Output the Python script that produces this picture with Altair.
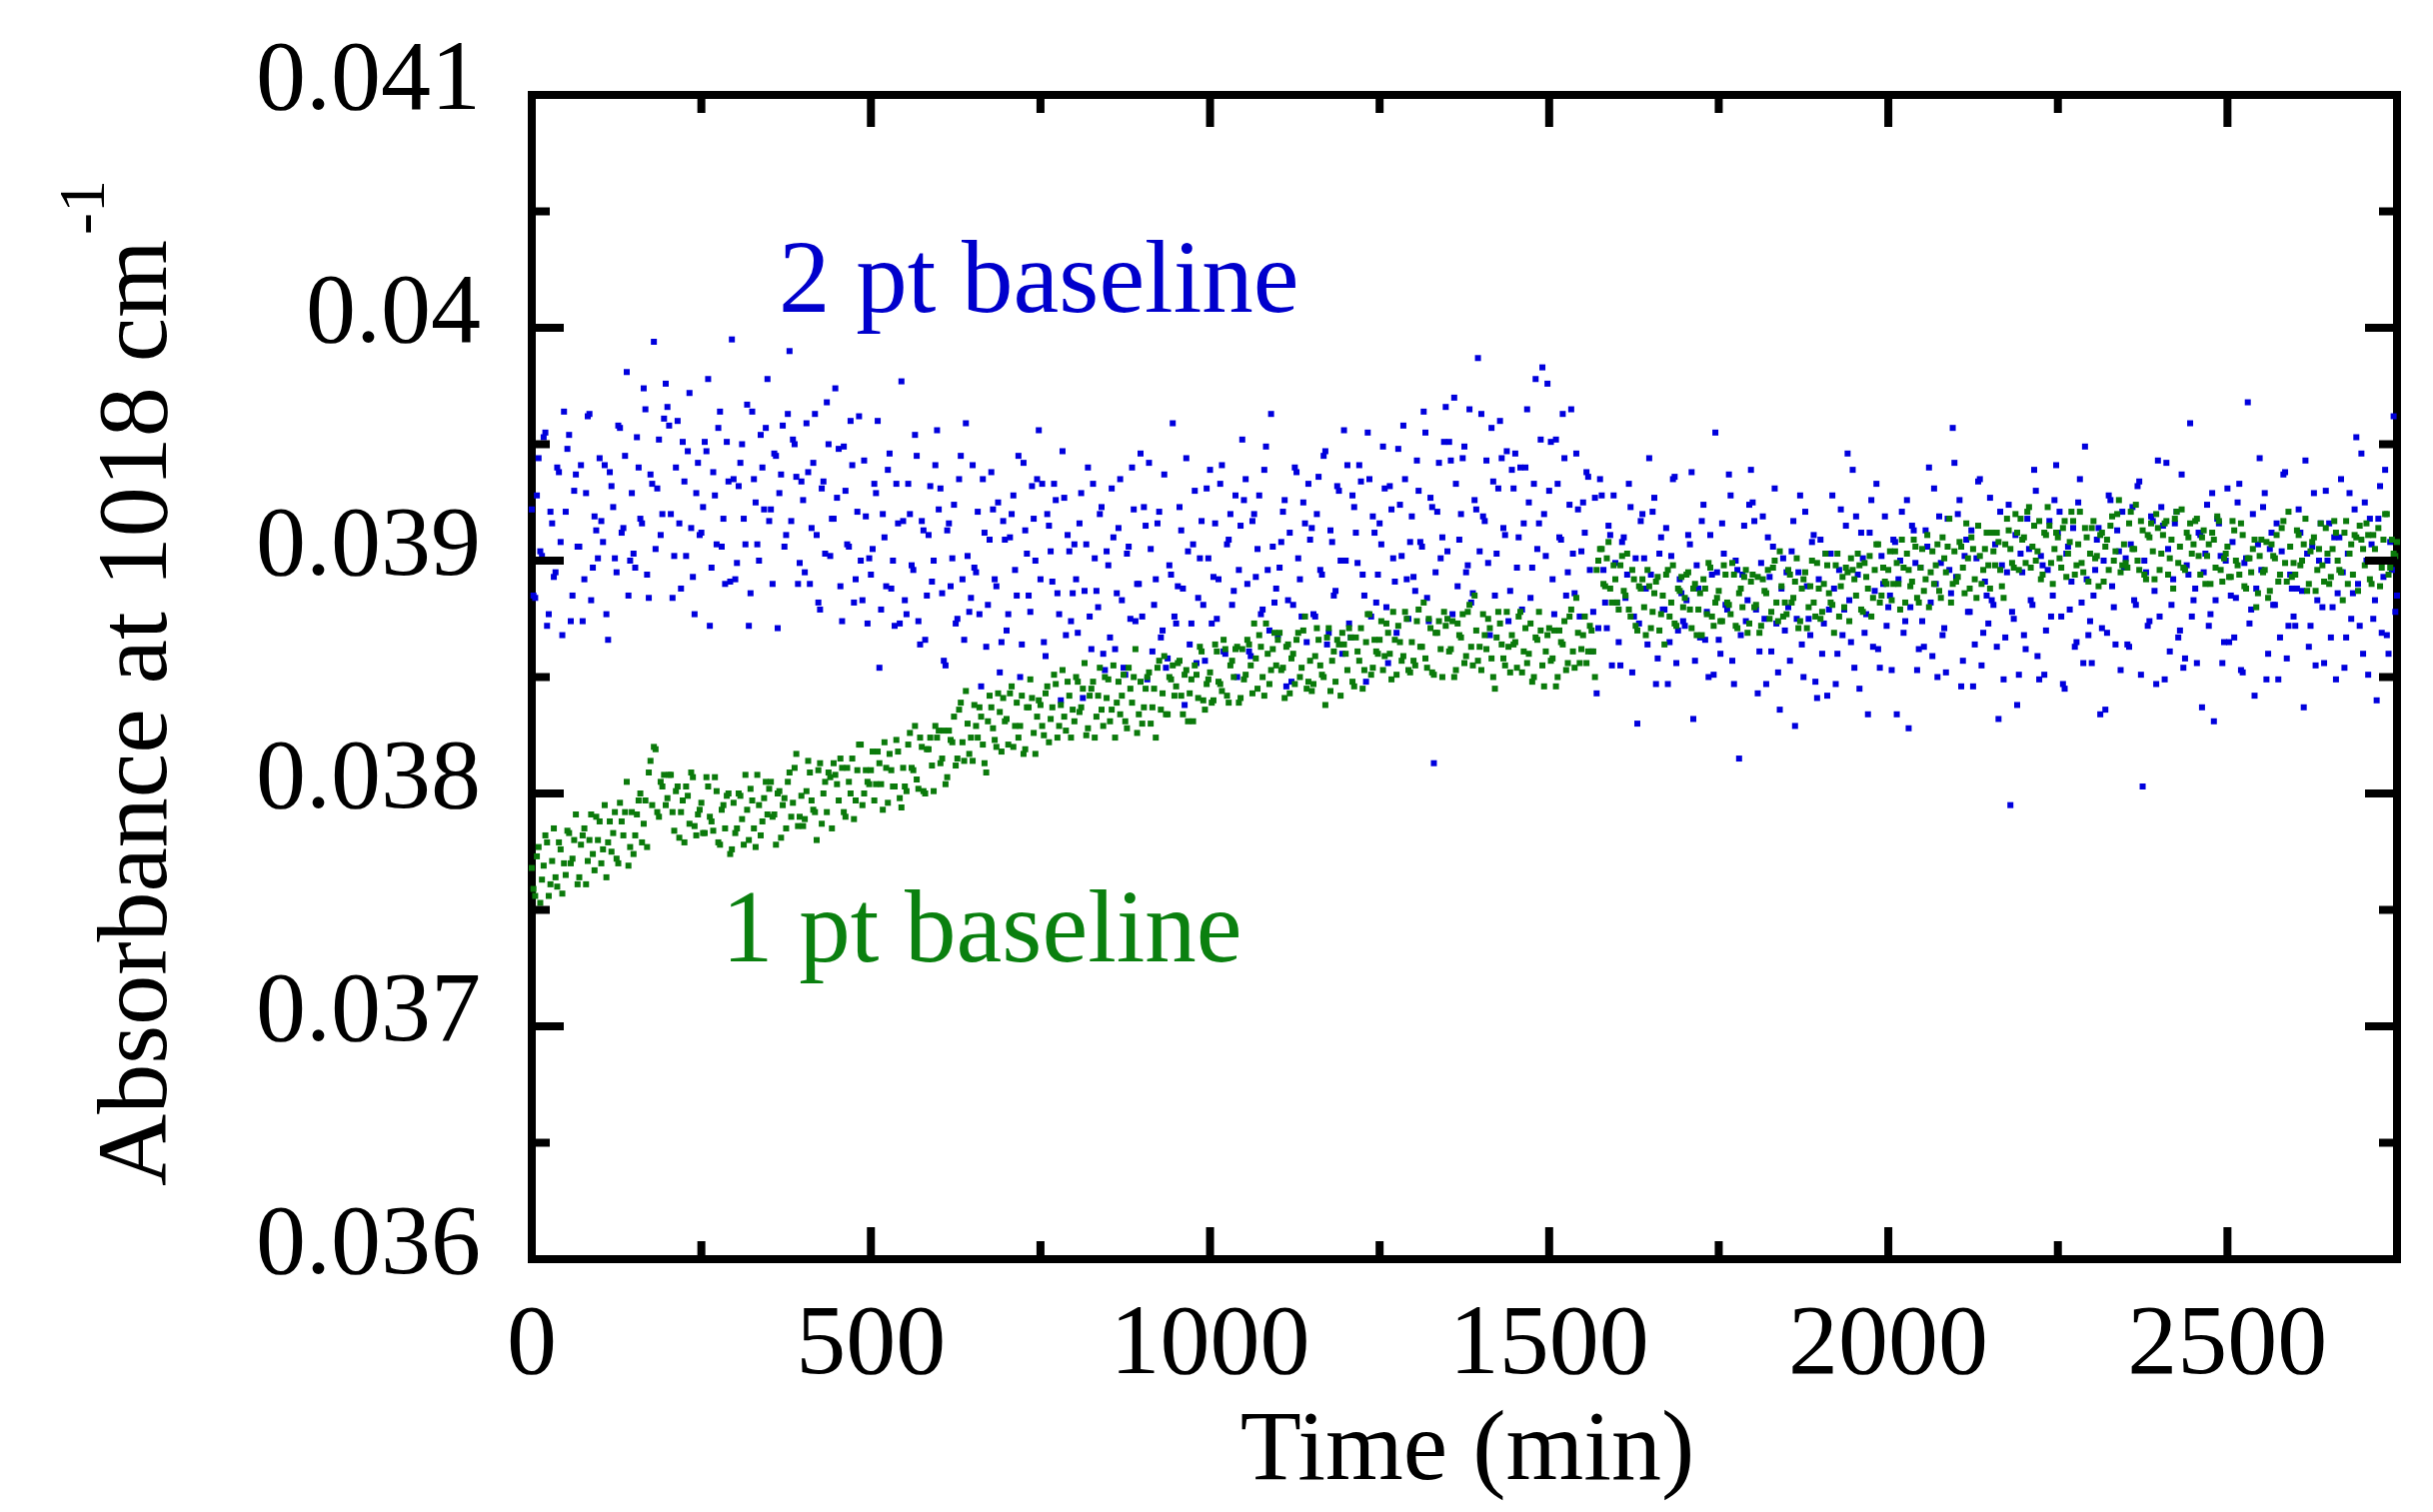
import altair as alt
import pandas as pd

# ---------------- data: absorbance x 1e6 ----------------
# "_a" samples are at t = 0, 5, 10 ... min ; "_b" samples are at t = 2.5, 7.5, 12.5 ... min
STEP_MIN = 5
HALF_STEP = 2.5

green_1pt_a = [
    37680, 37560, 37770, 37630, 37820, 37560, 37710, 37640, 37790, 37570,  # 0
    37650, 37830, 37720, 37910, 37640, 37820, 37610, 37800, 37740, 37900,  # 50
    37880, 37760, 37640, 37880, 37830, 37720, 37960, 37820, 38050, 37770,  # 100
    37740, 37910, 38000, 37870, 37770, 38140, 38200, 37920, 38050, 38080,  # 150
    37980, 38080, 37840, 38030, 37920, 37790, 37990, 38090, 37860, 37910,  # 200
    37960, 37830, 38030, 37880, 38070, 37790, 37930, 37850, 38000, 37760,  # 250
    37830, 38000, 37890, 38080, 37800, 37970, 37770, 37950, 37880, 38050,  # 300
    38020, 37900, 37780, 38010, 37950, 37850, 38090, 37960, 38170, 37900,  # 350
    37860, 38010, 38090, 37930, 37800, 38130, 38000, 37920, 38070, 38130,  # 400
    38040, 38150, 37920, 38110, 38000, 37890, 38100, 38210, 38000, 38050,  # 450
    38100, 37970, 38180, 38040, 38220, 37960, 38100, 38030, 38180, 37940,  # 500
    38030, 38210, 38110, 38290, 38020, 38200, 38000, 38190, 38120, 38290,  # 550
    38270, 38150, 38040, 38270, 38220, 38120, 38360, 38220, 38440, 38170,  # 600
    38140, 38290, 38370, 38210, 38090, 38420, 38280, 38200, 38350, 38410,  # 650
    38320, 38430, 38200, 38390, 38290, 38170, 38370, 38490, 38260, 38330,  # 700
    38380, 38250, 38460, 38320, 38510, 38240, 38380, 38330, 38480, 38240,  # 750
    38310, 38480, 38370, 38560, 38280, 38450, 38240, 38420, 38360, 38500,  # 800
    38490, 38360, 38240, 38480, 38420, 38310, 38540, 38390, 38620, 38340,  # 850
    38300, 38450, 38520, 38370, 38240, 38570, 38430, 38340, 38500, 38550,  # 900
    38460, 38570, 38340, 38530, 38430, 38310, 38510, 38630, 38400, 38470,  # 950
    38520, 38400, 38610, 38470, 38660, 38420, 38550, 38500, 38630, 38410,  # 1000
    38490, 38660, 38550, 38730, 38450, 38630, 38420, 38600, 38530, 38690,  # 1050
    38660, 38530, 38410, 38640, 38580, 38470, 38690, 38540, 38760, 38480,  # 1100
    38440, 38590, 38660, 38510, 38380, 38710, 38570, 38480, 38640, 38690,  # 1150
    38600, 38710, 38480, 38670, 38570, 38450, 38650, 38770, 38540, 38610,  # 1200
    38660, 38530, 38730, 38600, 38780, 38510, 38650, 38590, 38750, 38520,  # 1250
    38570, 38740, 38630, 38820, 38540, 38710, 38510, 38690, 38620, 38780,  # 1300
    38750, 38620, 38500, 38730, 38670, 38560, 38780, 38630, 38850, 38570,  # 1350
    38530, 38680, 38750, 38580, 38450, 38780, 38640, 38550, 38630, 38680,  # 1400
    38650, 38760, 38520, 38710, 38600, 38480, 38670, 38780, 38550, 38610,  # 1450
    38710, 38580, 38460, 38700, 38640, 38530, 38760, 38610, 38840, 38560,  # 1500
    38680, 38560, 38720, 38610, 38960, 39050, 38900, 39010, 38880, 38980,  # 1550
    38820, 38980, 38870, 39030, 38760, 38920, 38700, 38880, 38800, 38960,  # 1600
    38710, 38860, 38930, 38770, 38640, 38960, 38820, 38730, 38880, 38930,  # 1650
    38840, 38950, 38710, 38900, 38790, 38680, 38880, 38990, 38760, 38820,  # 1700
    38870, 38740, 38940, 38810, 38990, 38720, 38860, 38800, 38960, 38730,  # 1750
    38940, 38810, 38690, 38920, 38860, 38750, 38970, 38820, 39040, 38760,  # 1800
    38770, 38940, 38840, 39010, 38740, 38920, 38710, 38890, 38820, 38990,  # 1850
    38750, 38900, 38980, 38820, 38690, 39030, 38890, 38800, 38950, 39010,  # 1900
    38920, 39030, 38790, 38990, 38880, 38760, 38960, 39070, 38850, 38910,  # 1950
    38960, 38830, 39040, 38900, 39090, 38820, 38960, 38910, 39060, 38820,  # 2000
    39050, 38920, 38800, 39040, 38980, 38870, 39100, 38950, 39180, 38900,  # 2050
    38910, 39080, 38970, 39160, 38880, 39050, 38840, 39020, 38960, 39120,  # 2100
    38880, 39040, 39120, 38960, 38840, 39180, 39050, 38970, 39120, 39180,  # 2150
    39100, 39210, 38970, 39150, 39040, 38920, 39120, 39230, 38990, 39050,  # 2200
    39100, 38970, 39170, 39030, 39210, 38940, 39070, 38990, 39140, 38910,  # 2250
    39140, 39010, 38890, 39120, 39060, 38960, 39190, 39040, 39260, 38980,  # 2300
    38990, 39160, 39050, 39240, 38960, 39130, 38920, 39100, 39040, 39200,  # 2350
    38960, 39110, 39170, 39010, 38880, 39210, 39060, 38970, 39120, 39160,  # 2400
    39070, 39180, 38940, 39130, 39020, 38900, 39090, 39190, 38960, 39010,  # 2450
    39060, 38930, 39130, 38980, 39160, 38890, 39010, 38950, 39090, 38860,  # 2500
    39090, 38960, 38840, 39070, 39010, 38910, 39140, 38990, 39210, 38930,  # 2550
    38940, 39110, 39000, 39180, 38900, 39080, 38870, 39050, 38980, 39140,  # 2600
    38900, 39050, 39120, 38960, 38830, 39170, 39030, 38940, 39100, 39150,  # 2650
    39050, 39160, 38920, 39110, 39000, 38890, 39090, 39200, 38970, 39030, 39080,  # 2700-2750
]

green_1pt_b = [
    37590, 37730, 37530, 37690, 37790, 37610, 37850, 37600, 37760, 37700,  # 2.5
    37840, 37700, 37800, 37610, 37780, 37850, 37710, 37910, 37670, 37800,  # 52.5
    37700, 37950, 37790, 37750, 37920, 37700, 37880, 37920, 37690, 37920,  # 102.5
    37820, 37970, 37790, 37970, 38090, 37950, 38190, 37900, 38030, 37950,  # 152.5
    38080, 37920, 38010, 37810, 37970, 38030, 37870, 38070, 37820, 37930,  # 202.5
    37830, 38070, 37900, 37840, 38010, 37780, 37950, 37990, 37740, 37960,  # 252.5
    37850, 37990, 37780, 37930, 38020, 37850, 38080, 37820, 37980, 37910,  # 302.5
    38050, 37910, 38000, 37810, 37980, 38050, 37900, 38110, 37860, 37990,  # 352.5
    37890, 38140, 37970, 37920, 38100, 37870, 38050, 38090, 37850, 38080,  # 402.5
    37970, 38110, 37900, 38050, 38150, 37970, 38210, 37950, 38100, 38040,  # 452.5
    38180, 38040, 38130, 37930, 38110, 38170, 38030, 38230, 37980, 38110,  # 502.5
    38010, 38260, 38100, 38060, 38240, 38010, 38190, 38240, 38010, 38240,  # 552.5
    38130, 38270, 38070, 38230, 38330, 38150, 38390, 38140, 38300, 38240,  # 602.5
    38380, 38240, 38330, 38130, 38310, 38370, 38230, 38430, 38180, 38310,  # 652.5
    38210, 38460, 38290, 38240, 38420, 38190, 38370, 38410, 38170, 38400,  # 702.5
    38290, 38430, 38220, 38370, 38470, 38290, 38530, 38270, 38420, 38360,  # 752.5
    38500, 38350, 38450, 38250, 38420, 38480, 38330, 38540, 38290, 38410,  # 802.5
    38310, 38550, 38390, 38340, 38510, 38280, 38450, 38500, 38260, 38480,  # 852.5
    38370, 38500, 38300, 38450, 38540, 38360, 38590, 38340, 38490, 38420,  # 902.5
    38560, 38420, 38510, 38310, 38490, 38550, 38410, 38610, 38360, 38490,  # 952.5
    38390, 38640, 38480, 38440, 38620, 38390, 38570, 38620, 38390, 38620,  # 1002.5
    38510, 38640, 38430, 38580, 38680, 38500, 38730, 38470, 38620, 38550,  # 1052.5
    38690, 38540, 38630, 38430, 38600, 38660, 38500, 38700, 38450, 38570,  # 1102.5
    38470, 38710, 38550, 38500, 38670, 38440, 38610, 38660, 38420, 38640,  # 1152.5
    38530, 38670, 38460, 38610, 38710, 38530, 38770, 38510, 38660, 38600,  # 1202.5
    38740, 38590, 38690, 38490, 38660, 38720, 38570, 38780, 38530, 38650,  # 1252.5
    38550, 38790, 38630, 38580, 38750, 38520, 38690, 38740, 38500, 38720,  # 1302.5
    38610, 38740, 38530, 38680, 38770, 38590, 38810, 38550, 38700, 38630,  # 1352.5
    38770, 38620, 38710, 38500, 38670, 38730, 38580, 38780, 38520, 38640,  # 1402.5
    38540, 38780, 38610, 38560, 38730, 38500, 38660, 38700, 38460, 38680,  # 1452.5
    38570, 38700, 38500, 38650, 38740, 38560, 38790, 38540, 38690, 38620,  # 1502.5
    38760, 38610, 38700, 38500, 39000, 39050, 38890, 39080, 38820, 38920,  # 1552.5
    38790, 39020, 38850, 38790, 38960, 38720, 38890, 38920, 38680, 38890,  # 1602.5
    38780, 38910, 38700, 38850, 38940, 38760, 38980, 38720, 38870, 38800,  # 1652.5
    38940, 38790, 38880, 38680, 38860, 38920, 38770, 38970, 38720, 38840,  # 1702.5
    38740, 38980, 38820, 38770, 38940, 38710, 38880, 38930, 38690, 38910,  # 1752.5
    38800, 38930, 38720, 38870, 38960, 38780, 39000, 38740, 38890, 38820,  # 1802.5
    38960, 38820, 38910, 38710, 38880, 38950, 38800, 39000, 38760, 38880,  # 1852.5
    38780, 39030, 38860, 38810, 38980, 38760, 38930, 38970, 38740, 38960,  # 1902.5
    38850, 38980, 38780, 38930, 39020, 38840, 39070, 38820, 38970, 38900,  # 1952.5
    39040, 38900, 38990, 38790, 38970, 39030, 38890, 39090, 38840, 38970,  # 2002.5
    38870, 39110, 38950, 38900, 39070, 38840, 39010, 39060, 38820, 39040,  # 2052.5
    38930, 39060, 38860, 39010, 39100, 38920, 39150, 38900, 39050, 38980,  # 2102.5
    39120, 38980, 39080, 38890, 39070, 39130, 38990, 39200, 38960, 39090,  # 2152.5
    38990, 39230, 39060, 39000, 39170, 38940, 39110, 39150, 38900, 39120,  # 2202.5
    39010, 39140, 38930, 39080, 39170, 38980, 39210, 38950, 39100, 39030,  # 2252.5
    39170, 39020, 39110, 38910, 39090, 39150, 39000, 39200, 38950, 39070,  # 2302.5
    38970, 39210, 39050, 39000, 39170, 38940, 39110, 39160, 38920, 39140,  # 2352.5
    39030, 39160, 38940, 39090, 39180, 38990, 39220, 38960, 39100, 39030,  # 2402.5
    39170, 39020, 39100, 38900, 39070, 39120, 38970, 39170, 38910, 39030,  # 2452.5
    38930, 39170, 39000, 38940, 39110, 38880, 39010, 39050, 38800, 39020,  # 2502.5
    38950, 39080, 38870, 39020, 39110, 38940, 39170, 38910, 39060, 38990,  # 2552.5
    39130, 38980, 39070, 38870, 39040, 39100, 38960, 39160, 38910, 39030,  # 2602.5
    38930, 39170, 39000, 38950, 39120, 38900, 39070, 39110, 38870, 39090,  # 2652.5
    38980, 39110, 38900, 39050, 39140, 38970, 39200, 38940, 39090, 39020,  # 2702.5
]

blue_2pt_a = [
    39220, 38840, 39440, 39020, 39550, 38770, 39160, 38950, 39380, 38680,  # 0
    39210, 39540, 38850, 39370, 39060, 38740, 39290, 39630, 38970, 39130,  # 50
    39440, 39080, 38770, 39380, 39230, 38950, 39570, 39140, 39810, 39000,  # 100
    39030, 39530, 39180, 39740, 38940, 39370, 39940, 39310, 39110, 39610,  # 150
    39660, 39200, 39020, 39600, 38880, 39340, 39470, 39140, 38770, 39420,  # 200
    39120, 39510, 39780, 38970, 39280, 39570, 39060, 38900, 39340, 39950,  # 250
    38920, 39320, 39500, 39070, 38720, 39640, 39250, 39000, 39400, 39570,  # 300
    39170, 38900, 39450, 39290, 39580, 39110, 39900, 39520, 39360, 38990,  # 350
    39260, 39590, 38900, 39420, 39110, 38790, 39340, 39680, 39020, 39180,  # 400
    39270, 38890, 39490, 39070, 39600, 38820, 39210, 39000, 39430, 38730,  # 450
    38940, 39330, 39600, 38790, 39100, 39390, 38880, 38720, 39160, 39770,  # 500
    38830, 39330, 38980, 39540, 38740, 39170, 38660, 39110, 38910, 39410,  # 550
    39220, 38860, 38550, 39160, 39010, 38730, 39350, 38920, 39590, 38780,  # 600
    39410, 38950, 38770, 39350, 38630, 39090, 39220, 38890, 38520, 39170,  # 650
    38700, 39100, 39280, 38850, 38500, 39420, 39030, 38780, 39180, 39350,  # 700
    38920, 38650, 39200, 39040, 39330, 38860, 38400, 39270, 39110, 38740,  # 750
    39070, 38690, 39290, 38870, 39400, 38620, 39010, 38800, 39230, 38530,  # 800
    38980, 39310, 38620, 39140, 38830, 38510, 39060, 39400, 38740, 38900,  # 850
    38760, 39150, 39420, 38610, 38920, 39210, 38700, 38540, 38980, 39590,  # 900
    38730, 39230, 38880, 39440, 38640, 39070, 38560, 39010, 38810, 39310,  # 950
    39390, 38930, 38750, 39330, 38610, 39070, 39200, 38870, 38500, 39150,  # 1000
    39260, 38900, 38590, 39200, 39050, 38770, 39390, 38960, 39630, 38820,  # 1050
    38680, 39080, 39260, 38830, 38480, 39400, 39010, 38760, 39160, 39330,  # 1100
    39140, 38760, 39360, 38940, 39470, 38690, 39080, 38870, 39300, 38600,  # 1150
    39000, 38730, 39280, 39120, 39410, 38940, 38480, 39350, 39190, 38820,  # 1200
    39160, 39490, 38800, 39320, 39010, 38690, 39240, 39580, 38920, 39080,  # 1250
    38930, 39430, 39080, 39640, 38840, 39270, 38130, 39210, 39010, 39510,  # 1300
    39040, 39430, 39700, 38890, 39200, 39490, 38980, 38820, 39260, 39870,  # 1350
    39630, 39170, 38990, 39570, 38850, 39310, 39440, 39110, 38740, 39390,  # 1400
    39460, 39100, 38790, 39400, 39250, 38970, 39780, 39160, 39830, 39020,  # 1450
    39300, 38920, 39520, 39100, 39630, 38850, 39240, 39030, 39460, 38760,  # 1500
    39250, 39380, 38960, 38780, 38430, 39350, 38960, 38710, 39110, 39280,  # 1550
    38820, 38550, 39100, 38940, 39230, 38760, 38300, 39170, 39010, 38640,  # 1600
    38940, 39270, 38580, 39100, 38790, 38470, 39020, 39360, 38700, 38860,  # 1650
    38720, 39110, 39380, 38570, 38880, 39170, 38660, 38500, 38940, 39550,  # 1700
    38660, 39160, 38810, 39370, 38570, 39000, 38150, 38940, 38740, 39240,  # 1750
    39250, 38790, 38610, 39190, 38470, 38930, 39060, 38730, 38360, 39010,  # 1800
    38950, 38570, 39170, 38750, 39280, 38500, 38890, 38680, 39110, 38410,  # 1850
    39090, 38730, 38420, 39030, 38880, 38600, 39220, 38790, 39460, 38650,  # 1900
    38540, 38940, 39120, 38690, 38340, 39260, 38870, 38620, 39020, 39190,  # 1950
    38800, 38530, 39080, 38920, 39210, 38740, 38280, 39150, 38990, 38620,  # 2000
    38740, 39130, 39400, 38590, 38900, 39190, 38680, 38520, 38960, 39570,  # 2050
    38930, 39260, 38570, 39090, 38780, 38460, 39010, 39350, 38690, 38850,  # 2100
    39270, 38810, 38630, 39210, 38490, 38950, 37950, 38750, 38380, 39030,  # 2150
    38680, 39180, 38830, 39390, 38590, 39020, 38510, 38960, 38760, 39260,  # 2200
    39120, 38760, 38450, 39060, 38910, 38630, 39250, 38820, 39490, 38680,  # 2250
    38560, 38960, 39140, 38710, 38360, 39280, 38890, 38640, 39040, 39210,  # 2300
    39010, 38630, 39230, 38810, 39340, 38030, 38950, 38740, 39170, 38470,  # 2350
    38760, 39150, 39420, 38610, 38920, 39210, 38700, 38540, 38980, 39590,  # 2400
    38830, 38560, 39110, 38950, 39240, 38770, 38310, 39180, 39020, 38650,  # 2450
    39310, 38850, 38670, 39250, 38530, 38990, 39680, 38790, 38420, 39070,  # 2500
    38960, 39290, 38600, 39120, 38810, 38490, 39040, 39380, 38720, 38880,  # 2550
    38720, 39220, 38870, 39430, 38630, 39060, 38550, 39000, 38800, 39300,  # 2600
    39160, 38800, 38490, 39100, 38950, 38670, 39290, 38860, 39530, 38720,  # 2650
    38600, 39000, 39180, 38750, 38400, 39320, 38930, 38680, 39080, 39620, 38850,  # 2700-2750
]

blue_2pt_b = [
    38850, 39280, 39040, 39530, 38720, 39210, 38930, 39400, 39080, 39640,  # 2.5
    39480, 38740, 39300, 39060, 39410, 38920, 39620, 38830, 39190, 39010,  # 52.5
    39170, 39410, 38660, 39320, 39010, 39580, 39120, 39450, 38850, 39290,  # 102.5
    38970, 39400, 39160, 39650, 38840, 39330, 39050, 39520, 39200, 39760,  # 152.5
    39580, 38840, 39400, 39160, 39510, 39020, 39720, 38930, 39290, 39110,  # 202.5
    39230, 39470, 38720, 39380, 39070, 39640, 39180, 39510, 38910, 39350,  # 252.5
    38990, 39420, 39180, 39670, 38860, 39350, 39070, 39540, 39220, 39780,  # 302.5
    39220, 39460, 38710, 39370, 39060, 39630, 39170, 39500, 38900, 39340,  # 352.5
    38950, 39380, 39140, 39630, 38820, 39310, 39030, 39500, 39180, 39740,  # 402.5
    39480, 38740, 39300, 39060, 39410, 38920, 39620, 38830, 39190, 39010,  # 452.5
    39050, 39290, 38540, 39200, 38890, 39460, 39000, 39330, 38730, 39170,  # 502.5
    38770, 39200, 38960, 39450, 38640, 39130, 38850, 39320, 39000, 39560,  # 552.5
    39310, 38570, 39130, 38890, 39240, 38750, 39450, 38660, 39020, 38840,  # 602.5
    38970, 39210, 38460, 39120, 38810, 39380, 38920, 39250, 38650, 39090,  # 652.5
    38770, 39200, 38960, 39450, 38640, 39130, 38850, 39320, 39000, 39560,  # 702.5
    39330, 38590, 39150, 38910, 39260, 38770, 39470, 38680, 39040, 38860,  # 752.5
    38920, 39160, 38410, 39070, 38760, 39330, 38870, 39200, 38600, 39040,  # 802.5
    38670, 39100, 38860, 39350, 38540, 39030, 38750, 39220, 38900, 39460,  # 852.5
    39230, 38490, 39050, 38810, 39160, 38670, 39370, 38580, 38940, 38760,  # 902.5
    38890, 39130, 38380, 39040, 38730, 39300, 38840, 39170, 38570, 39010,  # 952.5
    38730, 39160, 38920, 39410, 38600, 39090, 38810, 39280, 38960, 39520,  # 1002.5
    39350, 38610, 39170, 38930, 39280, 38790, 39490, 38700, 39060, 38880,  # 1052.5
    38970, 39210, 38460, 39120, 38810, 39380, 38920, 39250, 38650, 39090,  # 1102.5
    38770, 39200, 38960, 39450, 38640, 39130, 38850, 39320, 39000, 39560,  # 1152.5
    39410, 38670, 39230, 38990, 39340, 38850, 39550, 38760, 39120, 38940,  # 1202.5
    39070, 39310, 38560, 39220, 38910, 39480, 39020, 39350, 38750, 39190,  # 1252.5
    38870, 39300, 39060, 39550, 38740, 39230, 38950, 39420, 39100, 39660,  # 1302.5
    39510, 38770, 39330, 39090, 39440, 38950, 39650, 38860, 39220, 39040,  # 1352.5
    39190, 39430, 38680, 39340, 39030, 39600, 39140, 39470, 38870, 39310,  # 1402.5
    38970, 39400, 39160, 39650, 38840, 39330, 39050, 39520, 39200, 39760,  # 1452.5
    39510, 38770, 39330, 39090, 39440, 38950, 39650, 38860, 39220, 39040,  # 1502.5
    39120, 39360, 38610, 39270, 38710, 39280, 38820, 39150, 38550, 38990,  # 1552.5
    38650, 39080, 38840, 39330, 38520, 39010, 38730, 39200, 38880, 39440,  # 1602.5
    39210, 38470, 39030, 38790, 39140, 38650, 39350, 38560, 38920, 38740,  # 1652.5
    38830, 39070, 38320, 38980, 38670, 39240, 38780, 39110, 38510, 38950,  # 1702.5
    38600, 39030, 38790, 39280, 38470, 38960, 38680, 39150, 38830, 39390,  # 1752.5
    39170, 38430, 38990, 38750, 39100, 38610, 39310, 38520, 38880, 38700,  # 1802.5
    38800, 39040, 38290, 38950, 38640, 39210, 38750, 39080, 38480, 38920,  # 1852.5
    38600, 39030, 38790, 39280, 38470, 38960, 38680, 39150, 38830, 39390,  # 1902.5
    39190, 38450, 39010, 38770, 39120, 38630, 39330, 38540, 38900, 38720,  # 1952.5
    38850, 39090, 38340, 39000, 38690, 39260, 38800, 39130, 38530, 38970,  # 2002.5
    38630, 39060, 38820, 39310, 38500, 38990, 38710, 39180, 38860, 39420,  # 2052.5
    39200, 38460, 39020, 38780, 39130, 38640, 39340, 38550, 38910, 38730,  # 2102.5
    38830, 39070, 38320, 38980, 38670, 39240, 38780, 39110, 38510, 38950,  # 2152.5
    38620, 39050, 38810, 39300, 38490, 38980, 38700, 39170, 38850, 39410,  # 2202.5
    39210, 38470, 39030, 38790, 39140, 38650, 39350, 38560, 38920, 38740,  # 2252.5
    38850, 39090, 38340, 39000, 38690, 39260, 38800, 39130, 38530, 38970,  # 2302.5
    38640, 39070, 38830, 39320, 38510, 39000, 38720, 39190, 38870, 39430,  # 2352.5
    39230, 38490, 39050, 38810, 39160, 38670, 39370, 38580, 38940, 38760,  # 2402.5
    38880, 39120, 38370, 39030, 38720, 39290, 38830, 39160, 38560, 39000,  # 2452.5
    38650, 39080, 38840, 39330, 38520, 39010, 38730, 39200, 38880, 39440,  # 2502.5
    39230, 38490, 39050, 38810, 39160, 38670, 39370, 38580, 38940, 38760,  # 2552.5
    38880, 39120, 38370, 39030, 38720, 39290, 38830, 39160, 38560, 39000,  # 2602.5
    38670, 39100, 38860, 39350, 38540, 39030, 38750, 39220, 38900, 39460,  # 2652.5
    39250, 38510, 39070, 38830, 39180, 38690, 39390, 38600, 38960, 38780,  # 2702.5
]

# axis ticks / labels
x_major = [0, 500, 1000, 1500, 2000, 2500]
x_major_text = ["0", "500", "1000", "1500", "2000", "2500"]
x_minor = [250, 750, 1250, 1750, 2250, 2750]
y_major = [0.036, 0.037, 0.038, 0.039, 0.040, 0.041]
y_major_text = ["0.036", "0.037", "0.038", "0.039", "0.04", "0.041"]
y_minor = [0.0365, 0.0375, 0.0385, 0.0395, 0.0405]
x_title = "Time (min)"
y_title = "Absorbance at 1018 cm"
y_title_sup = "-1"

# in-plot series labels (time of text start, absorbance of text baseline)
label_text = ["2 pt baseline", "1 pt baseline"]
label_time = [364, 280]
label_abs = [0.04007, 0.03728]

# ---------------- styling ----------------
FONT = "Liberation Serif"
BLUE_PT, GREEN_PT = "#0000DD", "#0B7A0B"
BLUE_TXT, GREEN_TXT = "#0000CC", "#0A800F"
W, H = 1866, 1165
MAJ, MIN_ = 32, 18
TW = 8
PT = 36


def series_df(vals_a, vals_b):
    t = [i * STEP_MIN for i in range(len(vals_a))] + \
        [i * STEP_MIN + HALF_STEP for i in range(len(vals_b))]
    a = [v / 1e6 for v in vals_a] + [v / 1e6 for v in vals_b]
    return pd.DataFrame({"t": t, "a": a})


blue_df = series_df(blue_2pt_a, blue_2pt_b)
green_df = series_df(green_1pt_a, green_1pt_b)

xs = alt.Scale(domain=[0, 2750], nice=False, zero=False)
ys = alt.Scale(domain=[0.036, 0.041], nice=False, zero=False)

blue = alt.Chart(blue_df).mark_square(size=PT, color=BLUE_PT, opacity=1).encode(
    x=alt.X("t:Q", scale=xs, axis=None),
    y=alt.Y("a:Q", scale=ys, axis=None),
)
green = alt.Chart(green_df).mark_square(size=PT, color=GREEN_PT, opacity=1).encode(
    x=alt.X("t:Q", scale=xs, axis=None),
    y=alt.Y("a:Q", scale=ys, axis=None),
)


def xticks(vals, length):
    d = pd.DataFrame({"v": vals})
    base = alt.Chart(d).mark_rule(color="black", strokeWidth=TW, strokeCap="butt")
    bottom = base.encode(x=alt.X("v:Q", scale=xs, axis=None),
                         y=alt.value(H), y2=alt.value(H - length))
    top = base.encode(x=alt.X("v:Q", scale=xs, axis=None),
                      y=alt.value(0), y2=alt.value(length))
    return [bottom, top]


def yticks(vals, length):
    d = pd.DataFrame({"v": vals})
    base = alt.Chart(d).mark_rule(color="black", strokeWidth=TW, strokeCap="butt")
    left = base.encode(y=alt.Y("v:Q", scale=ys, axis=None),
                       x=alt.value(0), x2=alt.value(length))
    right = base.encode(y=alt.Y("v:Q", scale=ys, axis=None),
                        x=alt.value(W), x2=alt.value(W - length))
    return [left, right]


tick_layers = (xticks(x_major, MAJ) + xticks(x_minor, MIN_)
               + yticks(y_major, MAJ) + yticks(y_minor, MIN_))

# tick labels (placed through the scales)
xlab = alt.Chart(pd.DataFrame({"v": x_major, "s": x_major_text})).mark_text(
    font=FONT, fontSize=100, align="center", baseline="alphabetic", color="black"
).encode(x=alt.X("v:Q", scale=xs, axis=None), y=alt.value(H + 114), text="s:N")
ylab = alt.Chart(pd.DataFrame({"v": y_major, "s": y_major_text})).mark_text(
    font=FONT, fontSize=100, align="right", baseline="middle", dy=-16, color="black"
).encode(y=alt.Y("v:Q", scale=ys, axis=None), x=alt.value(-51), text="s:N")

xtitle = alt.Chart(pd.DataFrame({"s": [x_title]})).mark_text(
    font=FONT, fontSize=100, align="center", baseline="alphabetic", color="black"
).encode(x=alt.value(W / 2 + 3), y=alt.value(H + 220), text="s:N")

lab_df = pd.DataFrame({"text": label_text, "t": label_time, "a": label_abs})
labels = alt.Chart(lab_df).mark_text(font=FONT, fontSize=103, align="left",
                                     baseline="alphabetic").encode(
    x=alt.X("t:Q", scale=xs, axis=None),
    y=alt.Y("a:Q", scale=ys, axis=None),
    text="text:N",
    color=alt.Color("text:N", scale=alt.Scale(domain=label_text, range=[BLUE_TXT, GREEN_TXT]),
                    legend=None),
)

ytitle_main = alt.Chart(pd.DataFrame({"s": [y_title]})).mark_text(
    font=FONT, fontSize=100, angle=270, align="left", baseline="alphabetic", color="black"
).encode(x=alt.value(-366), y=alt.value(1092), text="s:N")
ytitle_sup = alt.Chart(pd.DataFrame({"s": [y_title_sup]})).mark_text(
    font=FONT, fontSize=66, angle=270, align="left", baseline="alphabetic", color="black"
).encode(x=alt.value(-428), y=alt.value(140), text="s:N")

chart = alt.layer(blue, green, *tick_layers, xlab, ylab, xtitle, labels,
                  ytitle_main, ytitle_sup).properties(
    width=W, height=H,
    autosize=alt.AutoSizeParams(type="none"),
    padding={"left": 524, "top": 87, "right": 20, "bottom": 244},
    background="white",
).configure_view(stroke="black", strokeWidth=8)

chart.save("out.html", embed_options={"renderer": "svg", "actions": False})
